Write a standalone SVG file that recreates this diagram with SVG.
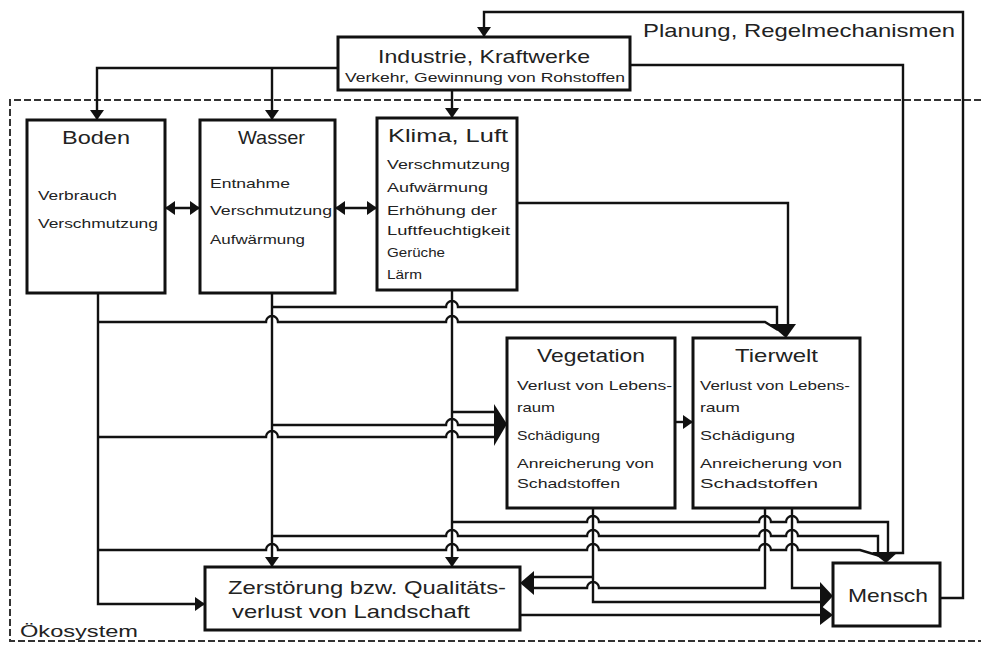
<svg xmlns="http://www.w3.org/2000/svg" width="981" height="645" viewBox="0 0 981 645">
  <style>
    .box { fill: #fff; stroke: #111; stroke-width: 3; }
    .ln { fill: none; stroke: #111; stroke-width: 2.4; }
    .ar { fill: none; stroke: #111; stroke-width: 2.4; marker-end: url(#ah); }
    .hd { fill: #111; }
    .eco { fill: none; stroke: #333; stroke-width: 2; stroke-dasharray: 7 3; }
    text { font-family: "Liberation Sans", Arial, sans-serif; fill: #222; }
    .t { font-size: 19px; }
    .b { font-size: 13.5px; }
  </style>
  <defs>
    <marker id="ah" viewBox="0 0 10 14" refX="10" refY="7" markerWidth="10" markerHeight="14" markerUnits="userSpaceOnUse" orient="auto-start-reverse">
      <path d="M0,0 L10,7 L0,14 z" fill="#111"/>
    </marker>
  </defs>

  <!-- ecosystem boundary -->
  <path class="eco" d="M981,100 H10 V641 H981"/>
  <text x="20" y="637" style="font-size:17px" textLength="118" lengthAdjust="spacingAndGlyphs">Ökosystem</text>
  <text x="643" y="37" class="t" textLength="312" lengthAdjust="spacingAndGlyphs">Planung, Regelmechanismen</text>

  <g id="connectors">
    <!-- feedback: Mensch back to Industrie -->
    <path class="ar" d="M940,598 H963 V12 H484 V37"/>
    <!-- Industrie to Mensch -->
    <path class="ln" d="M630,65 H903 V553 H890"/>
    <!-- Industrie to Boden, Wasser, Klima -->
    <path class="ar" d="M338,68 H97 V120"/>
    <path class="ar" d="M272,68 V120"/>
    <path class="ar" d="M452,90 V118"/>
    <!-- mutual influences -->
    <path class="ar" d="M165,208 H200" style="marker-start:url(#ah)"/>
    <path class="ar" d="M335,208 H377" style="marker-start:url(#ah)"/>
    <!-- Klima to Tierwelt -->
    <path class="ln" d="M517,203 H788 V328"/>
    <!-- Boden downward -->
    <path class="ar" d="M98,293 V604 H205"/>
    <path class="ln" d="M98,322 H266 a6,6 0 0 1 12,0 H446 a6,6 0 0 1 12,0 H765 L778,330"/>
    <path class="ln" d="M98,437 H266 a6,6 0 0 1 12,0 H446 a6,6 0 0 1 12,0 H496"/>
    <path class="ln" d="M98,550 H266 a6,6 0 0 1 12,0 H446 a6,6 0 0 1 12,0 H587 a6,6 0 0 1 12,0 H759 a6,6 0 0 1 12,0 H786 a6,6 0 0 1 12,0 H860 L880,556"/>
    <!-- Wasser downward -->
    <path class="ar" d="M272,293 V567"/>
    <path class="ln" d="M272,307 H446 a6,6 0 0 1 12,0 H777 V328"/>
    <path class="ln" d="M272,425 H446 a6,6 0 0 1 12,0 H496"/>
    <path class="ln" d="M272,536 H446 a6,6 0 0 1 12,0 H587 a6,6 0 0 1 12,0 H759 a6,6 0 0 1 12,0 H786 a6,6 0 0 1 12,0 H878 V553"/>
    <!-- Klima downward -->
    <path class="ar" d="M452,290 V567"/>
    <path class="ln" d="M452,412 H496"/>
    <path class="ln" d="M452,522 H587 a6,6 0 0 1 12,0 H759 a6,6 0 0 1 12,0 H786 a6,6 0 0 1 12,0 H888 V553"/>
    <!-- Vegetation to Tierwelt -->
    <path class="ar" d="M675,422 H693"/>
    <!-- Vegetation downward -->
    <path class="ln" d="M593,508 V602 H822"/>
    <path class="ln" d="M593,577 H532"/>
    <!-- Tierwelt downward -->
    <path class="ln" d="M765,508 V588 H599 a6,6 0 0 0 -12,0 H532"/>
    <path class="ln" d="M792,508 V588 H822"/>
    <!-- Zerstoerung to Mensch -->
    <path class="ln" d="M520,615 H822"/>

    <!-- merged arrowheads -->
    <path class="hd" d="M770,324 L796,324 L786,338 z"/>
    <path class="hd" d="M494,404 L507,424 L494,446 z"/>
    <path class="hd" d="M872,552 L898,552 L886,563 z"/>
    <path class="hd" d="M520,583 L534,571 L534,595 z"/>
    <path class="hd" d="M820,582 L833,596 L820,610 z"/>
    <path class="hd" d="M820,605 L833,615 L820,625 z"/>
  </g>

  <g id="industrie">
    <rect class="box" x="338" y="37" width="292" height="53"/>
    <text x="378" y="63" class="t" textLength="212" lengthAdjust="spacingAndGlyphs">Industrie, Kraftwerke</text>
    <text x="345" y="82" style="font-size:13px" textLength="280" lengthAdjust="spacingAndGlyphs">Verkehr, Gewinnung von Rohstoffen</text>
  </g>

  <g id="boden">
    <rect class="box" x="27" y="120" width="138" height="173"/>
    <text x="62" y="144" class="t" textLength="68" lengthAdjust="spacingAndGlyphs">Boden</text>
    <text x="38" y="200" class="b" textLength="79" lengthAdjust="spacingAndGlyphs">Verbrauch</text>
    <text x="38" y="228" class="b" textLength="120" lengthAdjust="spacingAndGlyphs">Verschmutzung</text>
  </g>

  <g id="wasser">
    <rect class="box" x="200" y="120" width="135" height="173"/>
    <text x="238" y="144" class="t" textLength="67" lengthAdjust="spacingAndGlyphs">Wasser</text>
    <text x="210" y="188" class="b" textLength="80" lengthAdjust="spacingAndGlyphs">Entnahme</text>
    <text x="210" y="215" class="b" textLength="122" lengthAdjust="spacingAndGlyphs">Verschmutzung</text>
    <text x="210" y="244" class="b" textLength="95" lengthAdjust="spacingAndGlyphs">Aufwärmung</text>
  </g>

  <g id="klima">
    <rect class="box" x="377" y="118" width="140" height="172"/>
    <text x="388" y="142" class="t" textLength="120" lengthAdjust="spacingAndGlyphs">Klima, Luft</text>
    <text x="387" y="169" class="b" textLength="123" lengthAdjust="spacingAndGlyphs">Verschmutzung</text>
    <text x="387" y="192" class="b" textLength="101" lengthAdjust="spacingAndGlyphs">Aufwärmung</text>
    <text x="387" y="215" class="b" textLength="110" lengthAdjust="spacingAndGlyphs">Erhöhung der</text>
    <text x="387" y="235" class="b" textLength="123" lengthAdjust="spacingAndGlyphs">Luftfeuchtigkeit</text>
    <text x="387" y="257" class="b" textLength="58" lengthAdjust="spacingAndGlyphs">Gerüche</text>
    <text x="387" y="279" class="b" textLength="35" lengthAdjust="spacingAndGlyphs">Lärm</text>
  </g>

  <g id="vegetation">
    <rect class="box" x="507" y="338" width="168" height="170"/>
    <text x="537" y="362" class="t" textLength="108" lengthAdjust="spacingAndGlyphs">Vegetation</text>
    <text x="517" y="390" class="b" textLength="155" lengthAdjust="spacingAndGlyphs">Verlust von Lebens-</text>
    <text x="517" y="412" class="b" textLength="38" lengthAdjust="spacingAndGlyphs">raum</text>
    <text x="517" y="440" class="b" textLength="83" lengthAdjust="spacingAndGlyphs">Schädigung</text>
    <text x="517" y="468" class="b" textLength="137" lengthAdjust="spacingAndGlyphs">Anreicherung von</text>
    <text x="517" y="488" class="b" textLength="103" lengthAdjust="spacingAndGlyphs">Schadstoffen</text>
  </g>

  <g id="tierwelt">
    <rect class="box" x="693" y="338" width="167" height="170"/>
    <text x="735" y="362" class="t" textLength="83" lengthAdjust="spacingAndGlyphs">Tierwelt</text>
    <text x="700" y="390" class="b" textLength="150" lengthAdjust="spacingAndGlyphs">Verlust von Lebens-</text>
    <text x="700" y="412" class="b" textLength="40" lengthAdjust="spacingAndGlyphs">raum</text>
    <text x="700" y="440" class="b" textLength="95" lengthAdjust="spacingAndGlyphs">Schädigung</text>
    <text x="700" y="468" class="b" textLength="142" lengthAdjust="spacingAndGlyphs">Anreicherung von</text>
    <text x="700" y="488" class="b" textLength="118" lengthAdjust="spacingAndGlyphs">Schadstoffen</text>
  </g>

  <g id="zerstoerung">
    <rect class="box" x="205" y="567" width="315" height="63"/>
    <text x="228" y="594" class="t" textLength="278" lengthAdjust="spacingAndGlyphs">Zerstörung bzw. Qualitäts-</text>
    <text x="232" y="618" class="t" textLength="238" lengthAdjust="spacingAndGlyphs">verlust von Landschaft</text>
  </g>

  <g id="mensch">
    <rect class="box" x="833" y="563" width="107" height="63"/>
    <text x="848" y="602" class="t" textLength="80" lengthAdjust="spacingAndGlyphs">Mensch</text>
  </g>
</svg>
